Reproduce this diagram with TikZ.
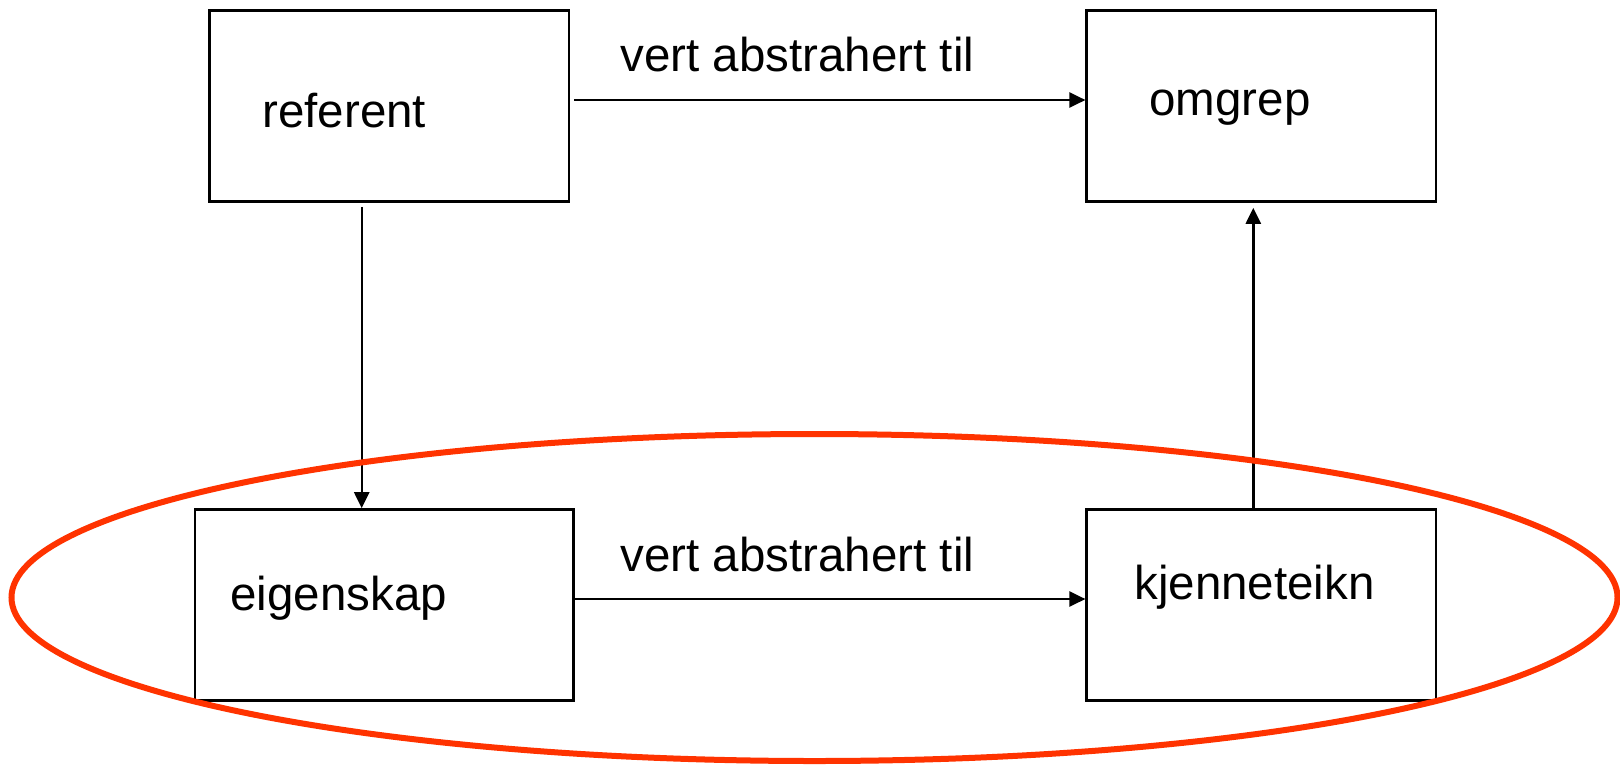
\documentclass[tikz,border=0pt]{standalone}
\usepackage{fontspec}
\setmainfont{Liberation Sans}
\usetikzlibrary{arrows.meta}

\definecolor{ringred}{HTML}{FF3300}

\begin{document}
\begin{tikzpicture}[x=0.5pt, y=-0.5pt,
  box/.style={draw, line width=1.2pt, inner sep=0pt, minimum height=95.6pt},
  word/.style={anchor=base west, inner sep=0pt, font=\fontsize{23.75}{28}\selectfont},
  arrow/.style={-{Triangle[length=8pt, width=7.5pt]}, line width=1.2pt}]

  \useasboundingbox (0,0) rectangle (1620,766);

  % Boxes
  \node [box, minimum width=179.8pt] (referent) at (389.3,106) {};
  \node [box, minimum width=174.7pt] (omgrep) at (1261.3,106) {};
  \node [box, minimum width=189.2pt] (eigenskap) at (384.2,605) {};
  \node [box, minimum width=174.7pt] (kjenneteikn) at (1261.3,605) {};

  % Box texts
  \node [word] (referent-txt) at (262,127) {referent};
  \node [word] (omgrep-txt) at (1149,115) {omgrep};
  \node [word] (eigenskap-txt) at (230,610) {eigenskap};
  \node [word] (kjenneteikn-txt) at (1134,599) {kjenneteikn};

  % Abstraction, top row
  \draw [arrow] ([shift={(2pt,3pt)}]referent.east) -- ([yshift=3pt]omgrep.west);
  \node [word] (top-lbl) at (620,71) {vert abstrahert til};

  % Abstraction, bottom row
  \draw [arrow] ([yshift=3pt]eigenskap.east) -- ([yshift=3pt]kjenneteikn.west);
  \node [word] (bottom-lbl) at (620,571) {vert abstrahert til};

  % Down from referent
  \draw [arrow] ([shift={(-13.8pt,-2pt)}]referent.south) -- ([xshift=-13.8pt]referent.south |- eigenskap.north);

  % Up to omgrep
  \draw [arrow] ([xshift=-4pt]kjenneteikn.north) -- ([shift={(-4pt,-2.5pt)}]omgrep.south);

  % Ring round the bottom row
  \draw [ringred, line width=3pt] (814.5,597.5) ellipse [x radius=401.5pt, y radius=81.75pt];

\end{tikzpicture}
\end{document}
